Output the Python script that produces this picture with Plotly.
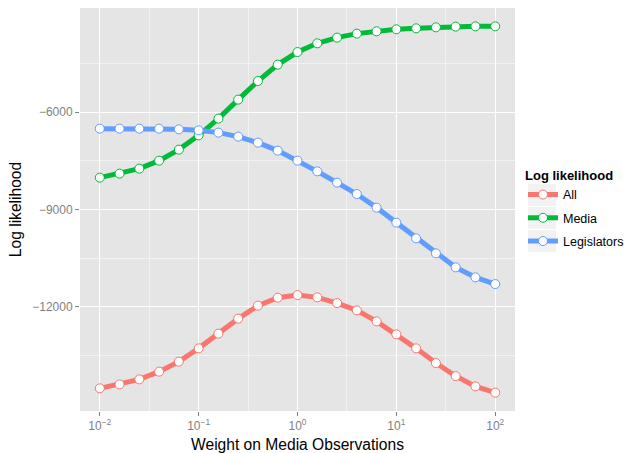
import numpy as np
import plotly.graph_objects as go

log_weight = [-2.0, -1.8, -1.6, -1.4, -1.2, -1.0, -0.8, -0.6, -0.4, -0.2, 0.0,
              0.2, 0.4, 0.6, 0.8, 1.0, 1.2, 1.4, 1.6, 1.8, 2.0]
weights = [10 ** v for v in log_weight]

ll_all = [-14518, -14395, -14241, -14003, -13695, -13285, -12832, -12369, -11969, -11722,
          -11642, -11713, -11889, -12114, -12453, -12854, -13285, -13738, -14139, -14457, -14651]
ll_media = [-8022, -7899, -7745, -7498, -7159, -6718, -6203, -5618, -5044, -4539,
            -4150, -3882, -3706, -3583, -3512, -3450, -3420, -3389, -3367, -3358, -3358]
ll_legis = [-6512, -6512, -6512, -6512, -6533, -6564, -6635, -6758, -6943, -7190,
            -7498, -7828, -8177, -8528, -8947, -9410, -9894, -10356, -10788, -11096, -11303]

series_names = ["All", "Media", "Legislators"]
series_values = [ll_all, ll_media, ll_legis]
colors = ["#F8766D", "#00BA38", "#619CFF"]

x_tick_vals = [0.01, 0.1, 1, 10, 100]
x_tick_text = ["10<sup>−2</sup>", "10<sup>−1</sup>", "10<sup>0</sup>", "10<sup>1</sup>", "10<sup>2</sup>"]
y_tick_vals = [-6000, -9000, -12000]
y_tick_text = ["−6000", "−9000", "−12000"]

fig = go.Figure()
for name, vals, col in zip(series_names, series_values, colors):
    fig.add_trace(go.Scatter(
        x=weights, y=vals, name=name, legendgroup=name, mode="lines+markers",
        line=dict(color=col, width=5),
        marker=dict(size=9, color="white", line=dict(color=col, width=1)),
    ))

W, H = 624, 453
ml, mr, mt, mb = 80, 109, 8, 42
pw, ph = W - ml - mr, H - mt - mb

def px_x(x):
    return (x - ml) / pw

def px_y(y):
    return (H - mb - y) / ph

# grey legend key backgrounds
shapes = []
for cy in [195, 218, 241]:
    shapes.append(dict(type="rect", xref="paper", yref="paper",
                       x0=px_x(528), x1=px_x(556), y0=px_y(cy + 11), y1=px_y(cy - 11),
                       fillcolor="#F2F2F2", line=dict(width=0), layer="above"))

fig.update_layout(
    width=W, height=H,
    margin=dict(l=ml, r=mr, t=mt, b=mb, autoexpand=False),
    paper_bgcolor="white", plot_bgcolor="#E5E5E5",
    font=dict(family="Liberation Sans, Arial, sans-serif", size=12, color="black"),
    showlegend=True,
    shapes=shapes,
    legend=dict(
        title=dict(text="<b>Log likelihood</b>", font=dict(size=13)),
        x=px_x(523), y=px_y(163), xanchor="left", yanchor="top",
        font=dict(size=12.5), bgcolor="rgba(0,0,0,0)",
        tracegroupgap=4, traceorder="grouped", itemwidth=30,
    ),
)
fig.update_xaxes(
    type="log", range=[-2.2, 2.2],
    tickvals=x_tick_vals, ticktext=x_tick_text,
    tickfont=dict(size=12, color="#7F7F7F"),
    ticks="outside", ticklen=4, tickcolor="#7F7F7F",
    showgrid=True, gridcolor="white", gridwidth=1.2,
    minor=dict(tickvals=[10 ** -1.5, 10 ** -0.5, 10 ** 0.5, 10 ** 1.5],
               showgrid=True, gridcolor="#F2F2F2", gridwidth=0.6, ticks=""),
    zeroline=False, showline=False,
    title=dict(text="Weight on Media Observations", font=dict(size=15.6), standoff=6),
)
fig.update_yaxes(
    range=[-15216, -2793],
    tickvals=y_tick_vals, ticktext=y_tick_text,
    tickfont=dict(size=12, color="#7F7F7F"),
    ticks="outside", ticklen=4, tickcolor="#7F7F7F",
    showgrid=True, gridcolor="white", gridwidth=1.2,
    minor=dict(tickvals=[-4500, -7500, -10500, -13500],
               showgrid=True, gridcolor="#F2F2F2", gridwidth=0.6, ticks=""),
    zeroline=False, showline=False,
    title=dict(text="Log likelihood", font=dict(size=15.6), standoff=6),
)

fig.write_html("out.html")
